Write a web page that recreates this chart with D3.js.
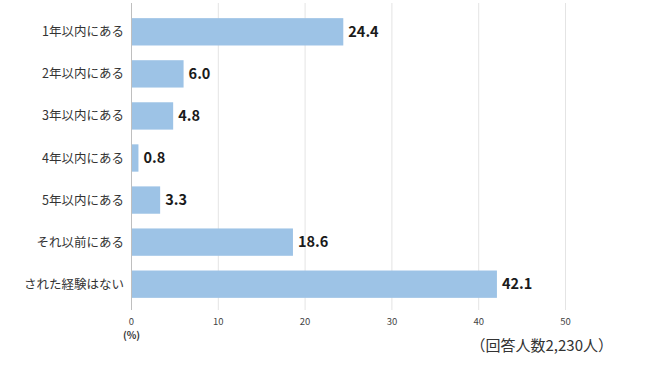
<!DOCTYPE html>
<html>
<head>
<meta charset="utf-8">
<script src="https://cdn.jsdelivr.net/npm/d3@7"></script>
<style>
  body { margin: 0; background: #fff; }
  text { font-family: "Noto Sans CJK JP", "Noto Sans", sans-serif; }
</style>
</head>
<body>
<script>
var categories = ["1年以内にある", "2年以内にある", "3年以内にある", "4年以内にある", "5年以内にある", "それ以前にある", "された経験はない"];
var values = [24.4, 6.0, 4.8, 0.8, 3.3, 18.6, 42.1];
var ticks = [0, 10, 20, 30, 40, 50];
var barcolour = "#9dc3e6";

var svg = d3.select("body").append("svg")
    .attr("width", 650)
    .attr("height", 365);

var x = d3.scaleLinear().domain([0, 50]).range([131.5, 565.5]);
var y = d3.scaleBand().domain(categories).range([11, 305]).paddingInner(0.35).paddingOuter(0.17);

// gridlines
svg.selectAll(".grid")
    .data(ticks.slice(1))
    .enter().append("line")
    .attr("class", "grid")
    .attr("x1", function(d) { return x(d); })
    .attr("x2", function(d) { return x(d); })
    .attr("y1", 3)
    .attr("y2", 310)
    .attr("stroke", "#e4e4e4")
    .attr("stroke-width", 1);

// bars
svg.selectAll(".bar")
    .data(values)
    .enter().append("rect")
    .attr("class", "bar")
    .attr("x", x(0))
    .attr("y", function(d, i) { return y(categories[i]); })
    .attr("width", function(d) { return x(d) - x(0); })
    .attr("height", y.bandwidth())
    .attr("fill", barcolour);

// axis line
svg.append("line")
    .attr("x1", x(0)).attr("x2", x(0))
    .attr("y1", 3).attr("y2", 310)
    .attr("stroke", "#bfbfbf");

// value labels
svg.selectAll(".val")
    .data(values)
    .enter().append("text")
    .attr("class", "val")
    .attr("x", function(d) { return x(d) + 5; })
    .attr("y", function(d, i) { return y(categories[i]) + y.bandwidth() / 2; })
    .attr("dy", "0.36em")
    .style("font-size", "14.5px")
    .style("font-weight", "bold")
    .style("fill", "#1a1a1a")
    .text(function(d) { return d.toFixed(1); });

// category labels
svg.selectAll(".cat")
    .data(categories)
    .enter().append("text")
    .attr("class", "cat")
    .attr("x", 124)
    .attr("y", function(d) { return y(d) + y.bandwidth() / 2; })
    .attr("dy", "0.36em")
    .attr("text-anchor", "end")
    .style("font-size", "12.5px")
    .style("fill", "#333")
    .text(function(d) { return d; });

// tick labels
svg.selectAll(".tick")
    .data(ticks)
    .enter().append("text")
    .attr("class", "tick")
    .attr("x", function(d) { return x(d); })
    .attr("y", 321.5)
    .attr("dy", "0.36em")
    .attr("text-anchor", "middle")
    .style("font-size", "9.5px")
    .style("fill", "#444")
    .text(function(d) { return d; });

svg.append("text")
    .attr("x", x(0))
    .attr("y", 335.5)
    .attr("dy", "0.36em")
    .attr("text-anchor", "middle")
    .style("font-size", "10px")
    .style("font-weight", "bold")
    .style("fill", "#333")
    .text("(%)");

svg.append("text")
    .attr("x", 613)
    .attr("y", 346)
    .attr("dy", "0.36em")
    .attr("text-anchor", "end")
    .style("font-size", "15px")
    .style("fill", "#333")
    .text("（回答人数2,230人）");
</script>
</body>
</html>
